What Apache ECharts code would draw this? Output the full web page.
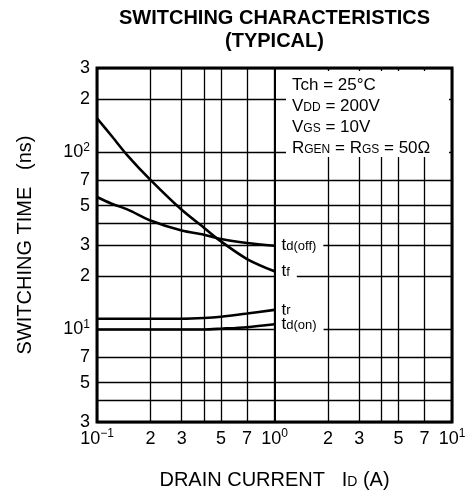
<!DOCTYPE html>
<html>
<head>
<meta charset="utf-8">
<script src="https://cdn.jsdelivr.net/npm/echarts@6/dist/echarts.min.js"></script>
<style>
  html, body { margin: 0; padding: 0; background: #fff; }
  #chart { width: 471px; height: 495px; }
</style>
</head>
<body>
<div id="chart"></div>
<script>
// drain current (A)
var current = [0.1, 0.12, 0.15, 0.2, 0.3, 0.4, 0.5, 0.7, 1.0];
// switching times (ns)
var tdOff = [56, 51.5, 47.4, 41.3, 36.2, 34.3, 32.4, 30.8, 29.7];
var tf = [156, 125, 95, 70, 47.4, 37.6, 31.4, 25, 21.3];
var tr = [11.5, 11.5, 11.5, 11.5, 11.5, 11.6, 11.8, 12.3, 12.9];
var tdOn = [10, 10, 10, 10, 10, 10, 10.1, 10.3, 10.7];

var xGrid = [0.1, 0.2, 0.3, 0.4, 0.5, 0.7, 1, 2, 3, 4, 5, 7, 10];
var xLabels = [0.1, 0.2, 0.3, 0.5, 0.7, 1, 2, 3, 5, 7, 10];
var yGrid = [3, 4, 5, 7, 10, 20, 30, 40, 50, 70, 100, 200, 300];
var yLabels = [3, 5, 7, 10, 20, 30, 50, 70, 100, 200, 300];

var FONT = "'Liberation Sans', Arial, sans-serif";

function pairs(ys) {
    var out = [];
    for (var i = 0; i < current.length; i++) out.push([current[i], ys[i]]);
    return out;
}

function logLabel(v) {
    var e = Math.floor(Math.log10(v) + 1e-9);
    var m = Math.round(v / Math.pow(10, e));
    if (m === 1) {
        return '10{sup|' + (e < 0 ? '\u2212' + (-e) : e) + '}';
    }
    return String(m);
}

var tickRich = {
    sup: { fontSize: 12, lineHeight: 14, verticalAlign: 'top', fontFamily: FONT, color: '#000' }
};

function curve(name, ys, label) {
    return {
        name: name,
        type: 'line',
        data: pairs(ys),
        smooth: 0.3,
        symbol: 'none',
        lineStyle: { color: '#000', width: 2.6 },
        endLabel: {
            show: true,
            formatter: label,
            distance: 0,
            padding: [1, 7, 1, 7],
            backgroundColor: '#fff',
            rich: {
                t: { fontSize: 17, fontFamily: FONT, color: '#000' },
                s: { fontSize: 13, padding: [2, 0, 0, 0], fontFamily: FONT, color: '#000' }
            }
        }
    };
}

var chart = echarts.init(document.getElementById('chart'));
var series = [
    curve('td(off)', tdOff, '{t|t}{s|d(off)}'),
    curve('tf', tf, '{t|t}{s|f}'),
    curve('tr', tr, '{t|t}{s|r}'),
    curve('td(on)', tdOn, '{t|t}{s|d(on)}')
];
series[0].markLine = {
    silent: true,
    symbol: 'none',
    label: { show: false },
    lineStyle: { color: '#000', width: 2, type: 'solid' },
    data: [{ xAxis: 1 }]
};

chart.setOption({
    animation: false,
    backgroundColor: '#fff',
    title: {
        text: 'SWITCHING CHARACTERISTICS\n(TYPICAL)',
        left: 269.5,
        top: 2,
        textAlign: 'center',
        textStyle: { fontFamily: FONT, fontSize: 20, fontWeight: 'bold', lineHeight: 23, color: '#000' }
    },
    grid: {
        left: 97, right: 19, top: 68, bottom: 73,
        show: true, borderColor: '#000', borderWidth: 3, backgroundColor: 'transparent'
    },
    xAxis: {
        type: 'log',
        logBase: 10,
        min: 0.1,
        max: 10,
        name: 'DRAIN CURRENT   I{s|D} (A)',
        nameLocation: 'middle',
        nameGap: 48,
        nameTextStyle: {
            fontFamily: FONT, fontSize: 20, color: '#000',
            rich: { s: { fontSize: 14, padding: [4, 0, 0, 0], fontFamily: FONT, color: '#000' } }
        },
        axisLine: { show: false },
        axisTick: { show: false, customValues: xGrid },
        axisLabel: {
            customValues: xLabels,
            formatter: logLabel,
            fontFamily: FONT, fontSize: 18, lineHeight: 22, color: '#000', margin: 6,
            rich: tickRich
        },
        splitLine: { show: true, lineStyle: { color: '#000', width: 1.3 } }
    },
    yAxis: {
        type: 'log',
        logBase: 10,
        min: 3,
        max: 300,
        name: 'SWITCHING TIME   (ns)',
        nameLocation: 'middle',
        nameGap: 62,
        nameRotate: 90,
        nameTextStyle: { fontFamily: FONT, fontSize: 20, color: '#000' },
        axisLine: { show: false },
        axisTick: { show: false, customValues: yGrid },
        axisLabel: {
            customValues: yLabels,
            formatter: logLabel,
            fontFamily: FONT, fontSize: 18, lineHeight: 22, color: '#000', margin: 7,
            rich: tickRich
        },
        splitLine: { show: true, lineStyle: { color: '#000', width: 1.3 } }
    },
    graphic: [
        {
            type: 'rect',
            shape: { x: 286, y: 71, width: 163, height: 86 },
            style: { fill: '#fff' },
            z: 50
        },
        {
            type: 'text',
            left: 292,
            top: 77,
            z: 51,
            style: {
                text: '{b|Tch = 25\u00b0C}\n{b|V}{s|DD}{b| = 200V}\n{b|V}{s|GS}{b| = 10V}\n{b|R}{s|GEN}{b| = R}{s|GS}{b| = 50\u03a9}',
                font: '17px ' + FONT,
                fill: '#000',
                rich: {
                    b: { fontSize: 17, lineHeight: 21, fontFamily: FONT, fill: '#000' },
                    s: { fontSize: 12, padding: [3, 0, 0, 0], fontFamily: FONT, fill: '#000' }
                }
            }
        }
    ],
    series: series
});
</script>
</body>
</html>
